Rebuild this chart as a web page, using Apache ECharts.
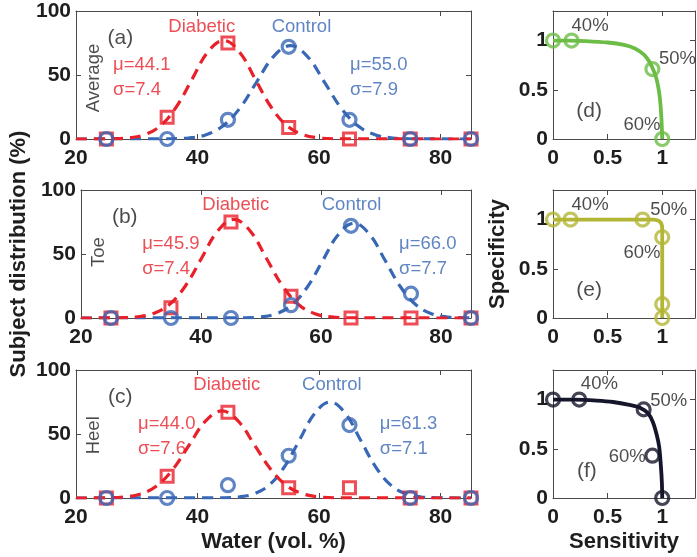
<!DOCTYPE html>
<html>
<head>
<meta charset="utf-8">
<script src="https://cdn.jsdelivr.net/npm/echarts@6/dist/echarts.min.js"></script>
<style>
html,body{margin:0;padding:0;background:#fff;}
#c{width:697px;height:557px;}
</style>
</head>
<body>
<div id="c"></div>
<script>
// ---------------- data ----------------
const waterBins = [25, 35, 45, 55, 65, 75, 85];
const xTicksWater = [20, 40, 60, 80];
const yTicksDist = [0, 50, 100];
const rocTicks = [0, 0.5, 1];

const avgDiabetic = [0, 17, 75, 9, 0, 0, 0];
const avgControl = [0, 0, 15, 72, 15, 0, 0];
const toeDiabetic = [0, 8, 75, 17, 0, 0, 0];
const toeControl = [0, 0, 0, 10, 72, 19, 0];
const heelDiabetic = [0, 17, 67, 8, 8, 0, 0];
const heelControl = [0, 0, 10, 33, 57, 0, 0];

// fitted curves
const avgDiabeticFit = [[20,0],[26.1,0.2],[28.7,0.9],[31.3,3.4],[33.9,10.4],[36.5,25],[39.1,46.7],[41.7,68],[44.3,77],[46.9,68],[49.5,46.7],[52.1,25],[54.7,10.4],[57.3,3.4],[59.9,0.9],[62.5,0.2],[85,0]];
const avgControlFit = [[20,0],[35.7,0.2],[38.5,0.8],[41.3,3.2],[44.1,9.9],[46.9,23.7],[49.7,44.3],[52.5,64.4],[55.3,73],[58.1,64.4],[60.9,44.3],[63.7,23.7],[66.5,9.9],[69.3,3.2],[72.1,0.8],[74.9,0.2],[85,0]];
const toeDiabeticFit = [[20,0],[26.6,0.2],[29.3,0.9],[32,3.4],[34.7,10.4],[37.4,25],[40.1,46.7],[42.8,68],[45.5,77],[48.2,68],[50.9,46.7],[53.6,25],[56.3,10.4],[59,3.4],[61.7,0.9],[64.4,0.2],[85,0]];
const toeControlFit = [[20,0],[47.3,0.2],[49.9,0.8],[52.5,3.2],[55.1,10],[57.7,24],[60.3,44.9],[62.9,65.3],[65.5,74],[68.1,65.3],[70.7,44.9],[73.3,24],[75.9,10],[78.5,3.2],[81.1,0.8],[83.7,0.2],[85,0]];
const heelDiabeticFit = [[20,0],[25.1,0.15],[27.8,0.8],[30.5,3],[33.2,9.2],[35.9,22.1],[38.6,41.2],[41.3,60],[44,68],[46.7,60],[49.4,41.2],[52.1,22.1],[54.8,9.2],[57.5,3],[60.2,0.8],[62.9,0.15],[85,0]];
const heelControlFit = [[20,0],[44.3,0.2],[46.8,0.8],[49.3,3.3],[51.8,10.1],[54.3,24.4],[56.8,45.5],[59.3,66.2],[61.8,75],[64.3,66.2],[66.8,45.5],[69.3,24.4],[71.8,10.1],[74.3,3.3],[76.8,0.8],[79.3,0.2],[85,0]];

// ROC curves (sensitivity, specificity)
const rocAvgCurve = [[0,1],[0.15,1],[0.3,0.995],[0.5,0.98],[0.65,0.955],[0.75,0.92],[0.83,0.86],[0.88,0.79],[0.915,0.71],[0.945,0.62],[0.965,0.52],[0.98,0.40],[0.992,0.22],[1,0]];
const rocAvgPts = [[0,1],[0.17,1],[0.91,0.71],[1,0]];
const rocToeCurve = [[0,1],[0.5,1],[0.92,1],[0.96,0.99],[0.985,0.97],[0.997,0.94],[1,0.9],[1,0]];
const rocToePts = [[0,1],[0.16,1],[0.82,1],[1,0.82],[1,0.14],[1,0]];
const rocHeelCurve = [[0,1],[0.2,1],[0.4,0.99],[0.55,0.975],[0.7,0.945],[0.8,0.915],[0.87,0.86],[0.915,0.77],[0.95,0.64],[0.972,0.52],[0.988,0.32],[0.997,0.15],[1,0]];
const rocHeelPts = [[0,1],[0.24,1],[0.83,0.9],[0.91,0.43],[1,0]];

// ---------------- styling ----------------
const FONT = '"Liberation Sans", Arial, Helvetica, sans-serif';
const RED = '#e8202a';
const BLUE = '#3867b5';
const GREEN = '#6cbd45';
const OLIVE = '#b3b534';
const DARK = '#15152b';
const TXT = '#1e1e1e';
const FRAME = '#4a4a4a';

const tops = [11, 190, 370];
const H = 128;

const grids = [];
const xAxes = [];
const yAxes = [];
const series = [];

function axisPair(gridIndex, min, max, ticks, isX, showLabels, extra) {
  const base = {
    gridIndex, type: 'value', min, max,
    axisLine: {show: true, onZero: false, lineStyle: {color: FRAME, width: 1}},
    axisTick: {show: true, inside: true, length: 5, customValues: ticks, lineStyle: {color: FRAME}},
    splitLine: {show: false},
  };
  const a = Object.assign({}, base, {
    position: isX ? 'bottom' : 'left',
    axisLabel: {show: showLabels, customValues: ticks, fontFamily: FONT, fontWeight: 'bold', fontSize: 21, color: TXT, margin: isX ? 9 : 5},
  }, extra || {});
  const b = Object.assign({}, base, {
    position: isX ? 'top' : 'right',
    axisLabel: {show: false},
  });
  return [a, b];
}

function annot(gi, xi, yi, items) {
  series.push({
    type: 'scatter', xAxisIndex: xi, yAxisIndex: yi, symbolSize: 0, silent: true, z: 10,
    data: items.map(t => ({
      value: [t.x, t.y],
      label: {
        show: true, position: 'inside', formatter: t.text,
        color: t.color || TXT, fontFamily: FONT, fontSize: t.size || 18.5,
        align: t.align || 'center', verticalAlign: 'middle', rotate: t.rotate || 0
      }
    }))
  });
}

const distPanels = [
  {d: avgDiabetic, c: avgControl, df: avgDiabeticFit, cf: avgControlFit, tag: '(a)', site: 'Average', siteY: 47.6,
   dl: [40.7, 87.5], cl: [57.1, 87.5], ds: ['μ=44.1', 'σ=7.4'], dsx: 26.1, cs: ['μ=55.0', 'σ=7.9'], csx: 65.1},
  {d: toeDiabetic, c: toeControl, df: toeDiabeticFit, cf: toeControlFit, tag: '(b)', site: 'Toe', siteY: 51.5,
   dl: [45.8, 88.3], cl: [65.1, 88.3], ds: ['μ=45.9', 'σ=7.4'], dsx: 30.2, cs: ['μ=66.0', 'σ=7.7'], csx: 73},
  {d: heelDiabetic, c: heelControl, df: heelDiabeticFit, cf: heelControlFit, tag: '(c)', site: 'Heel', siteY: 49,
   dl: [44.8, 88], cl: [62.1, 88], ds: ['μ=44.0', 'σ=7.6'], dsx: 30.2, cs: ['μ=61.3', 'σ=7.1'], csx: 70},
];

distPanels.forEach((p, i) => {
  const gi = grids.length;
  grids.push({left: 76, width: 395, top: tops[i], height: H});
  const xi = xAxes.length, yi = yAxes.length;
  let xExtra = {};
  if (i === 2) xExtra = {name: 'Water (vol. %)', nameLocation: 'middle', nameGap: 33,
    nameTextStyle: {fontFamily: FONT, fontWeight: 'bold', fontSize: 22, color: TXT}};
  let yExtra = {};
  if (i === 1) yExtra = {name: 'Subject distribution (%)', nameLocation: 'middle', nameGap: 49,
    nameTextStyle: {fontFamily: FONT, fontWeight: 'bold', fontSize: 22, color: TXT}};
  xAxes.push(...axisPair(gi, 20, 85, xTicksWater, true, true, xExtra));
  yAxes.push(...axisPair(gi, 0, 100, yTicksDist, false, true, yExtra));
  const common = {xAxisIndex: xi, yAxisIndex: yi, silent: true};
  series.push(Object.assign({type: 'line', smooth: 0.4, showSymbol: false, data: p.cf,
    lineStyle: {color: BLUE, width: 3.2, type: [11, 7]}, z: 2}, common));
  series.push(Object.assign({type: 'line', smooth: 0.4, showSymbol: false, data: p.df,
    lineStyle: {color: RED, width: 3.2, type: [11, 7]}, z: 3}, common));
  series.push(Object.assign({type: 'scatter', symbol: 'rect', symbolSize: 12,
    data: waterBins.map((x, k) => [x, p.d[k]]),
    itemStyle: {color: 'rgba(0,0,0,0)', borderColor: RED, borderWidth: 3}, z: 4}, common));
  series.push(Object.assign({type: 'scatter', symbol: 'circle', symbolSize: 13,
    data: waterBins.map((x, k) => [x, p.c[k]]),
    itemStyle: {color: 'rgba(0,0,0,0)', borderColor: BLUE, borderWidth: 3.2}, z: 5}, common));
  annot(gi, xi, yi, [
    {text: 'Diabetic', x: p.dl[0], y: p.dl[1], color: RED},
    {text: 'Control', x: p.cl[0], y: p.cl[1], color: BLUE},
    {text: p.tag, x: 27.3, y: 79, size: 21},
    {text: p.site, x: 23, y: p.siteY, rotate: 90},
    {text: p.ds[0], x: p.dsx, y: 58, color: RED, align: 'left'},
    {text: p.ds[1], x: p.dsx, y: 38, color: RED, align: 'left'},
    {text: p.cs[0], x: p.csx, y: 58, color: BLUE, align: 'left'},
    {text: p.cs[1], x: p.csx, y: 38, color: BLUE, align: 'left'},
  ]);
});

const rocPanels = [
  {curve: rocAvgCurve, pts: rocAvgPts, color: GREEN, tag: '(d)', tagPos: [0.33, 0.28],
   p40: [0.17, 1.15], p50: [0.97, 0.81], p60: [0.645, 0.14]},
  {curve: rocToeCurve, pts: rocToePts, color: OLIVE, tag: '(e)', tagPos: [0.33, 0.28],
   p40: [0.17, 1.15], p50: [0.89, 1.10], p60: [0.645, 0.66]},
  {curve: rocHeelCurve, pts: rocHeelPts, color: DARK, tag: '(f)', tagPos: [0.31, 0.27],
   p40: [0.255, 1.16], p50: [0.89, 0.985], p60: [0.51, 0.42]},
];

rocPanels.forEach((p, i) => {
  const gi = grids.length;
  grids.push({left: 553, width: 142, top: tops[i], height: H});
  const xi = xAxes.length, yi = yAxes.length;
  let xExtra = {};
  if (i === 2) xExtra = {name: 'Sensitivity', nameLocation: 'middle', nameGap: 33,
    nameTextStyle: {fontFamily: FONT, fontWeight: 'bold', fontSize: 22, color: TXT}};
  let yExtra = {};
  if (i === 1) yExtra = {name: 'Specificity', nameLocation: 'middle', nameGap: 44,
    nameTextStyle: {fontFamily: FONT, fontWeight: 'bold', fontSize: 22, color: TXT}};
  xAxes.push(...axisPair(gi, 0, 1.3, rocTicks, true, true, xExtra));
  yAxes.push(...axisPair(gi, 0, 1.3, rocTicks, false, true, yExtra));
  const common = {xAxisIndex: xi, yAxisIndex: yi, silent: true};
  series.push(Object.assign({type: 'line', smooth: 0.3, showSymbol: false, data: p.curve,
    lineStyle: {color: p.color, width: 3.8}, z: 2}, common));
  series.push(Object.assign({type: 'scatter', symbol: 'circle', symbolSize: 13,
    data: p.pts, itemStyle: {color: 'rgba(0,0,0,0)', borderColor: p.color, borderWidth: 3.2}, z: 3}, common));
  annot(gi, xi, yi, [
    {text: '40%', x: p.p40[0], y: p.p40[1], align: 'left'},
    {text: '50%', x: p.p50[0], y: p.p50[1], align: 'left'},
    {text: '60%', x: p.p60[0], y: p.p60[1], align: 'left'},
    {text: p.tag, x: p.tagPos[0], y: p.tagPos[1], size: 21},
  ]);
});

const chart = echarts.init(document.getElementById('c'), null, {renderer: 'canvas'});
chart.setOption({
  animation: false,
  backgroundColor: '#fff',
  grid: grids,
  xAxis: xAxes,
  yAxis: yAxes,
  series: series
});
</script>
</body>
</html>
